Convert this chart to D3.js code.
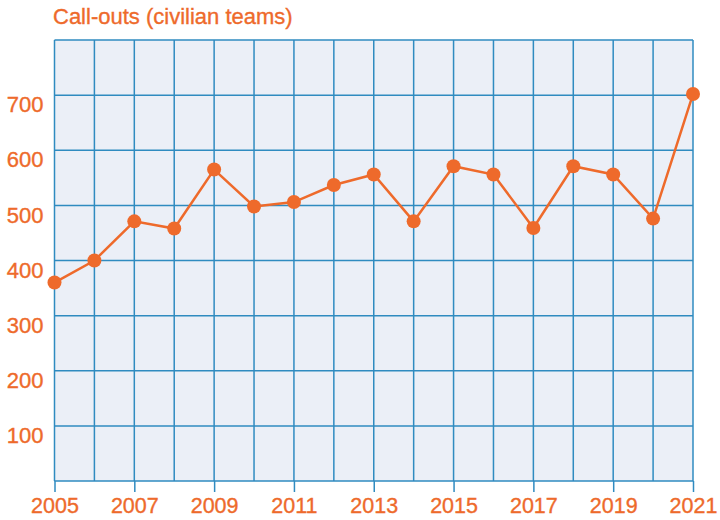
<!DOCTYPE html>
<html>
<head>
<meta charset="utf-8">
<script src="https://cdn.jsdelivr.net/npm/d3@7"></script>
<style>
  body { margin: 0; background: #fff; }
  text { font-family: "Liberation Sans", Arial, sans-serif; fill: #ee6a2b; stroke: #ee6a2b; stroke-width: 0.35px; }
</style>
</head>
<body>
<script>
// call-outs per year
var years = [2005, 2006, 2007, 2008, 2009, 2010, 2011, 2012, 2013, 2014, 2015, 2016, 2017, 2018, 2019, 2020, 2021];
var callouts = [360, 400, 471, 458, 565, 498, 506, 537, 556, 471, 571, 556, 459, 571, 556, 476, 702];
var yTicks = [100, 200, 300, 400, 500, 600, 700];
var xTicks = [2005, 2007, 2009, 2011, 2013, 2015, 2017, 2019, 2021];

var orange = "#ee6a2b";
var gridBlue = "#2f8bc0";

var margin = { top: 40, right: 27, bottom: 39, left: 54.5 };
var width = 720 - margin.left - margin.right;
var height = 520 - margin.top - margin.bottom;

var svg = d3.select("body").append("svg")
  .attr("width", 720)
  .attr("height", 520);

svg.append("text")
  .attr("x", 53)
  .attr("y", 24)
  .style("font-size", "22px")
  .text("Call-outs (civilian teams)");

var g = svg.append("g")
  .attr("transform", "translate(" + margin.left + "," + margin.top + ")");

var x = d3.scaleLinear().domain([2005, 2021]).range([0, width]);
var y = d3.scaleLinear().domain([0, 800]).range([height, 0]);

// background
g.append("rect")
  .attr("width", width)
  .attr("height", height)
  .attr("fill", "#ebeff7");

// vertical grid (every year)
g.selectAll(".vgrid")
  .data(years)
  .enter().append("line")
  .attr("class", "vgrid")
  .attr("x1", function(d) { return x(d); })
  .attr("x2", function(d) { return x(d); })
  .attr("y1", 0)
  .attr("y2", height)
  .attr("stroke", gridBlue)
  .attr("stroke-width", 1.5);

// horizontal grid (every 100)
g.selectAll(".hgrid")
  .data(d3.range(0, 900, 100))
  .enter().append("line")
  .attr("class", "hgrid")
  .attr("x1", 0)
  .attr("x2", width)
  .attr("y1", function(d) { return y(d); })
  .attr("y2", function(d) { return y(d); })
  .attr("stroke", gridBlue)
  .attr("stroke-width", 1.5);

// x axis ticks + labels
var xAxis = g.append("g")
  .attr("transform", "translate(0," + height + ")")
  .call(d3.axisBottom(x).tickValues(xTicks).tickFormat(d3.format("d")).tickSize(11).tickPadding(6));
xAxis.select(".domain").remove();
xAxis.selectAll("line").attr("stroke", gridBlue).attr("stroke-width", 1.5);
xAxis.selectAll("text").style("font-size", "21.5px").attr("fill", orange);

// y axis labels (sit just under their grid line)
var yAxis = g.append("g")
  .call(d3.axisLeft(y).tickValues(yTicks).tickSize(0).tickPadding(11));
yAxis.select(".domain").remove();
yAxis.selectAll("text").style("font-size", "22px").attr("dy", "0.76em").attr("fill", orange);

var line = d3.line()
  .x(function(d, i) { return x(years[i]); })
  .y(function(d) { return y(d); });

g.append("path")
  .datum(callouts)
  .attr("d", line)
  .attr("fill", "none")
  .attr("stroke", orange)
  .attr("stroke-width", 2.5);

g.selectAll(".dot")
  .data(callouts)
  .enter().append("circle")
  .attr("class", "dot")
  .attr("cx", function(d, i) { return x(years[i]); })
  .attr("cy", function(d) { return y(d); })
  .attr("r", 7)
  .attr("fill", orange);
</script>
</body>
</html>
